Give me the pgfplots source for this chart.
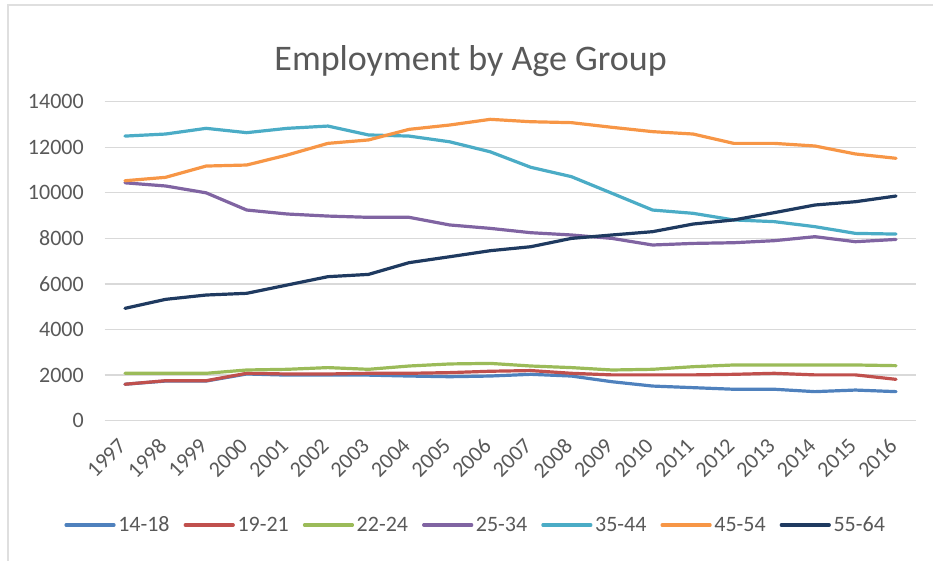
\documentclass[border=0pt]{standalone}
\usepackage{pgfplots}
\pgfplotsset{compat=1.18}
\usepackage{fontspec}
\setmainfont{Carlito}
\definecolor{txt}{HTML}{595959}
\definecolor{gridc}{HTML}{D9D9D9}
\definecolor{cA}{HTML}{4F81BD}
\definecolor{cB}{HTML}{C0504D}
\definecolor{cC}{HTML}{9BBB59}
\definecolor{cD}{HTML}{8064A2}
\definecolor{cE}{HTML}{4BACC6}
\definecolor{cF}{HTML}{F79646}
\definecolor{cG}{HTML}{1F3A60}
\begin{document}
\begin{tikzpicture}
\path[use as bounding box] (-78.5pt,-105.2pt) rectangle (621.2pt,315.5pt);
\draw[gray!25, line width=1pt] (-72.5pt,-105.2pt) -- (-72.5pt,311.8pt) -- (621.2pt,311.8pt);
\begin{axis}[
  at={(0,0)}, anchor=south west,
  scale only axis, width=608.7pt, height=239.25pt,
  xmin=1996.5, xmax=2016.5, ymin=0, ymax=14000,
  xtick={1997,...,2016}, ytick={0,2000,...,14000},
  scaled ticks=false,
  /pgf/number format/1000 sep={},
  /pgf/number format/assume math mode=true,
  tick label style={font=\fontsize{16.5}{18}\selectfont, text=txt},
  yticklabel style={anchor=east, inner sep=0pt, xshift=-15.5pt},
  xticklabel style={xshift=-2pt, yshift=-16pt, rotate=45, anchor=east, inner sep=0pt},
  axis line style={draw=none},
  major tick length=0pt,
  ymajorgrids, grid style={gridc, line width=1pt},
  every axis plot/.append style={line width=2.4pt, line cap=round, line join=round},
  legend columns=7,
  legend style={at={(0.4575,-0.327)}, anchor=center, draw=none, fill=none,
    font=\fontsize{16.5}{18}\selectfont, text=txt,
    nodes={inner sep=2pt},
    /tikz/every even column/.append style={column sep=8.5pt}},
  legend image code/.code={\draw[#1, line width=2.4pt, line cap=round] (0pt,0pt) -- (36pt,0pt);},
]
\addplot[cA] coordinates {(1997,1600)(1998,1740)(1999,1740)(2000,2050)(2001,2000)(2002,2000)(2003,2000)(2004,1960)(2005,1930)(2006,1960)(2007,2035)(2008,1960)(2009,1710)(2010,1520)(2011,1450)(2012,1380)(2013,1380)(2014,1275)(2015,1345)(2016,1275)};
\addplot[cB] coordinates {(1997,1600)(1998,1755)(1999,1755)(2000,2080)(2001,2050)(2002,2050)(2003,2080)(2004,2080)(2005,2110)(2006,2170)(2007,2200)(2008,2080)(2009,2010)(2010,2010)(2011,2010)(2012,2035)(2013,2080)(2014,2010)(2015,2010)(2016,1815)};
\addplot[cC] coordinates {(1997,2080)(1998,2080)(1999,2080)(2000,2225)(2001,2255)(2002,2330)(2003,2255)(2004,2400)(2005,2490)(2006,2515)(2007,2400)(2008,2330)(2009,2225)(2010,2255)(2011,2370)(2012,2445)(2013,2445)(2014,2445)(2015,2445)(2016,2415)};
\addplot[cD] coordinates {(1997,10440)(1998,10300)(1999,10000)(2000,9245)(2001,9070)(2002,8980)(2003,8925)(2004,8925)(2005,8590)(2006,8440)(2007,8250)(2008,8150)(2009,8000)(2010,7710)(2011,7780)(2012,7810)(2013,7900)(2014,8075)(2015,7855)(2016,7955)};
\addplot[cE] coordinates {(1997,12490)(1998,12580)(1999,12830)(2000,12640)(2001,12830)(2002,12930)(2003,12540)(2004,12490)(2005,12240)(2006,11800)(2007,11120)(2008,10710)(2009,9980)(2010,9245)(2011,9100)(2012,8810)(2013,8735)(2014,8515)(2015,8220)(2016,8190)};
\addplot[cF] coordinates {(1997,10530)(1998,10680)(1999,11175)(2000,11220)(2001,11660)(2002,12170)(2003,12320)(2004,12785)(2005,12975)(2006,13225)(2007,13120)(2008,13080)(2009,12875)(2010,12685)(2011,12580)(2012,12170)(2013,12170)(2014,12055)(2015,11705)(2016,11515)};
\addplot[cG] coordinates {(1997,4930)(1998,5325)(1999,5515)(2000,5590)(2001,5955)(2002,6320)(2003,6420)(2004,6935)(2005,7195)(2006,7460)(2007,7635)(2008,8000)(2009,8150)(2010,8295)(2011,8630)(2012,8810)(2013,9130)(2014,9465)(2015,9610)(2016,9860)};
\legend{14-18,19-21,22-24,25-34,35-44,45-54,55-64}
\end{axis}
\node[anchor=base, text=txt, font=\fontsize{27}{30}\selectfont] at (274.4pt,263pt) {Employment by Age Group};
\end{tikzpicture}
\end{document}
